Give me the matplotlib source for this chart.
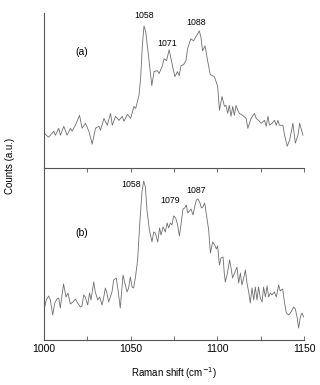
import matplotlib.pyplot as plt
from matplotlib.ticker import MultipleLocator

plt.rcParams['font.family'] = ['Liberation Sans', 'DejaVu Sans']

# spectrum (a)
shift_a = [1000.0, 1002.7, 1005.6, 1006.6, 1008.5, 1009.5, 1011.4, 1013.3, 1015.3, 1016.2,
           1018.1, 1020.5, 1022.0, 1023.9, 1025.9, 1027.8, 1029.7, 1031.7, 1032.6, 1034.6,
           1036.5, 1038.4, 1039.4, 1041.3, 1043.2, 1045.2, 1046.1, 1048.1, 1050.0, 1051.9,
           1052.9, 1054.8, 1055.8, 1056.8, 1057.7, 1058.7, 1060.6, 1062.2, 1063.5, 1065.4,
           1066.4, 1068.3, 1069.3, 1070.7, 1072.2, 1074.1, 1075.5, 1077.0, 1078.0, 1079.0,
           1080.5, 1081.9, 1082.8, 1084.7, 1086.3, 1087.6, 1089.6, 1090.5, 1091.5, 1092.9,
           1094.4, 1095.9, 1098.3, 1100.2, 1101.2, 1102.7, 1104.1, 1105.0, 1106.0, 1106.9,
           1107.9, 1108.9, 1109.8, 1110.8, 1111.8, 1112.7, 1114.6, 1116.6, 1117.6, 1119.5,
           1121.4, 1122.4, 1124.3, 1125.3, 1127.2, 1128.2, 1129.2, 1130.1, 1131.5, 1133.0,
           1134.0, 1134.9, 1135.9, 1137.8, 1138.8, 1140.3, 1141.7, 1143.6, 1145.0, 1146.5,
           1147.5, 1149.4]
counts_a = [35, 31, 37, 33, 40, 33, 42, 33, 40, 37,
            43, 53, 40, 45, 37, 24, 40, 42, 38, 50,
            43, 55, 43, 52, 48, 52, 47, 54, 50, 62,
            60, 73, 92, 125, 143, 137, 108, 83, 97, 98,
            95, 103, 110, 108, 119, 103, 92, 97, 93, 103,
            104, 108, 120, 130, 128, 132, 138, 132, 118, 123,
            108, 94, 92, 82, 58, 72, 62, 63, 55, 63,
            52, 62, 53, 63, 58, 55, 53, 50, 40, 50,
            55, 50, 47, 45, 48, 42, 52, 43, 45, 48,
            43, 48, 43, 43, 33, 22, 28, 45, 25, 33,
            45, 33]

# spectrum (b)
shift_b = [1000.0, 1001.3, 1002.7, 1003.7, 1005.0, 1006.2, 1007.5, 1008.5, 1009.4, 1010.4,
           1011.3, 1012.7, 1013.8, 1015.2, 1016.7, 1018.1, 1019.4, 1021.0, 1021.9, 1022.9,
           1023.8, 1025.2, 1026.3, 1027.1, 1028.7, 1029.6, 1031.0, 1032.1, 1033.5, 1034.4,
           1035.4, 1036.3, 1037.3, 1038.3, 1039.2, 1040.2, 1041.7, 1042.7, 1044.0, 1045.6,
           1046.9, 1047.9, 1048.8, 1049.8, 1050.8, 1051.7, 1052.7, 1054.0, 1055.2, 1056.5,
           1057.5, 1058.5, 1059.4, 1060.8, 1062.3, 1063.3, 1064.2, 1065.6, 1066.7, 1067.5,
           1068.7, 1070.0, 1071.0, 1071.9, 1072.9, 1073.8, 1074.8, 1076.0, 1077.1, 1078.1,
           1079.0, 1080.2, 1081.2, 1082.1, 1082.9, 1084.0, 1084.8, 1086.0, 1086.9, 1087.9,
           1088.8, 1089.8, 1090.8, 1091.7, 1092.7, 1094.0, 1095.0, 1096.0, 1097.3, 1098.5,
           1099.4, 1100.2, 1101.2, 1102.1, 1103.3, 1104.0, 1104.6, 1105.6, 1107.1, 1108.1,
           1108.8, 1110.0, 1111.3, 1112.3, 1113.3, 1114.2, 1115.2, 1116.2, 1117.1, 1118.1,
           1119.0, 1120.0, 1121.0, 1121.9, 1122.9, 1123.8, 1124.8, 1125.8, 1126.7, 1127.7,
           1128.7, 1129.6, 1130.6, 1131.5, 1132.9, 1134.0, 1135.4, 1136.3, 1137.7, 1138.8,
           1139.8, 1141.2, 1142.1, 1143.1, 1144.0, 1145.0, 1146.0, 1146.9, 1147.9, 1148.8,
           1149.8]
counts_b = [30, 40, 44, 40, 25, 37, 41, 42, 32, 45,
            56, 43, 47, 36, 38, 41, 37, 33, 34, 45,
            43, 35, 47, 40, 58, 48, 40, 43, 35, 42,
            52, 47, 38, 43, 48, 60, 62, 50, 32, 65,
            55, 48, 52, 63, 53, 52, 62, 80, 115, 148,
            159, 153, 130, 110, 98, 108, 107, 98, 112, 105,
            113, 108, 117, 112, 117, 115, 124, 122, 115, 104,
            115, 131, 132, 135, 127, 129, 131, 125, 133, 140,
            141, 138, 132, 133, 137, 122, 110, 87, 98, 95,
            91, 94, 75, 82, 83, 67, 58, 65, 80, 70,
            62, 67, 73, 57, 67, 55, 62, 70, 57, 48,
            37, 52, 40, 53, 40, 53, 42, 38, 53, 43,
            54, 43, 47, 45, 48, 43, 55, 49, 51, 37,
            27, 25, 27, 30, 33, 31, 23, 12, 23, 27,
            23]

peaks_a = ['1058', '1071', '1088']
peaks_a_pos = [(1058, 153), (1071, 125), (1088, 146)]
peaks_b = ['1058', '1079', '1087']
peaks_b_pos = [(1050.5, 155), (1073, 139), (1088, 149)]

line_color = '#6e6e6e'
spine_color = '#555555'

fig = plt.figure(figsize=(3.2, 3.85), dpi=100)
ax2 = fig.add_axes([0.1375, 0.1169, 0.8125, 0.4468])
ax1 = fig.add_axes([0.1375, 0.5636, 0.8125, 0.4026])
ax1.patch.set_visible(False)
ax2.patch.set_visible(False)

ax1.plot(shift_a, counts_a, color=line_color, lw=0.6)
ax2.plot(shift_b, counts_b, color=line_color, lw=0.6)

for ax in (ax1, ax2):
    ax.set_xlim(1000, 1150)
    ax.spines['top'].set_visible(False)
    ax.spines['right'].set_visible(False)
    for s in ('left', 'bottom'):
        ax.spines[s].set_color(spine_color)
        ax.spines[s].set_linewidth(0.8)
    ax.set_yticks([])
    ax.xaxis.set_major_locator(MultipleLocator(50))
    ax.xaxis.set_minor_locator(MultipleLocator(25))

ax1.set_ylim(0, 156)
ax2.set_ylim(0, 172)

ax1.tick_params(axis='x', which='both', direction='out', length=3, width=0.6,
                color=spine_color, labelbottom=False)
ax2.tick_params(axis='x', which='both', direction='in', length=3, width=0.6,
                color=spine_color, labelsize=7.5, pad=3)

for lab, (x, y) in zip(peaks_a, peaks_a_pos):
    ax1.text(x, y, lab, fontsize=6.3, ha='center', va='center')
for lab, (x, y) in zip(peaks_b, peaks_b_pos):
    ax2.text(x, y, lab, fontsize=6.3, ha='center', va='center')

ax1.text(1022, 117, '(a)', fontsize=7.5, ha='center', va='center')
ax2.text(1022, 107, '(b)', fontsize=7.5, ha='center', va='center')

ax2.set_xlabel('Raman shift (cm$^{-1}$)', fontsize=7, labelpad=8)
fig.text(0.03, 1 - 166 / 385, 'Counts (a.u.)', rotation=90, fontsize=7,
         ha='center', va='center')

fig.savefig('out.png', dpi=100)
